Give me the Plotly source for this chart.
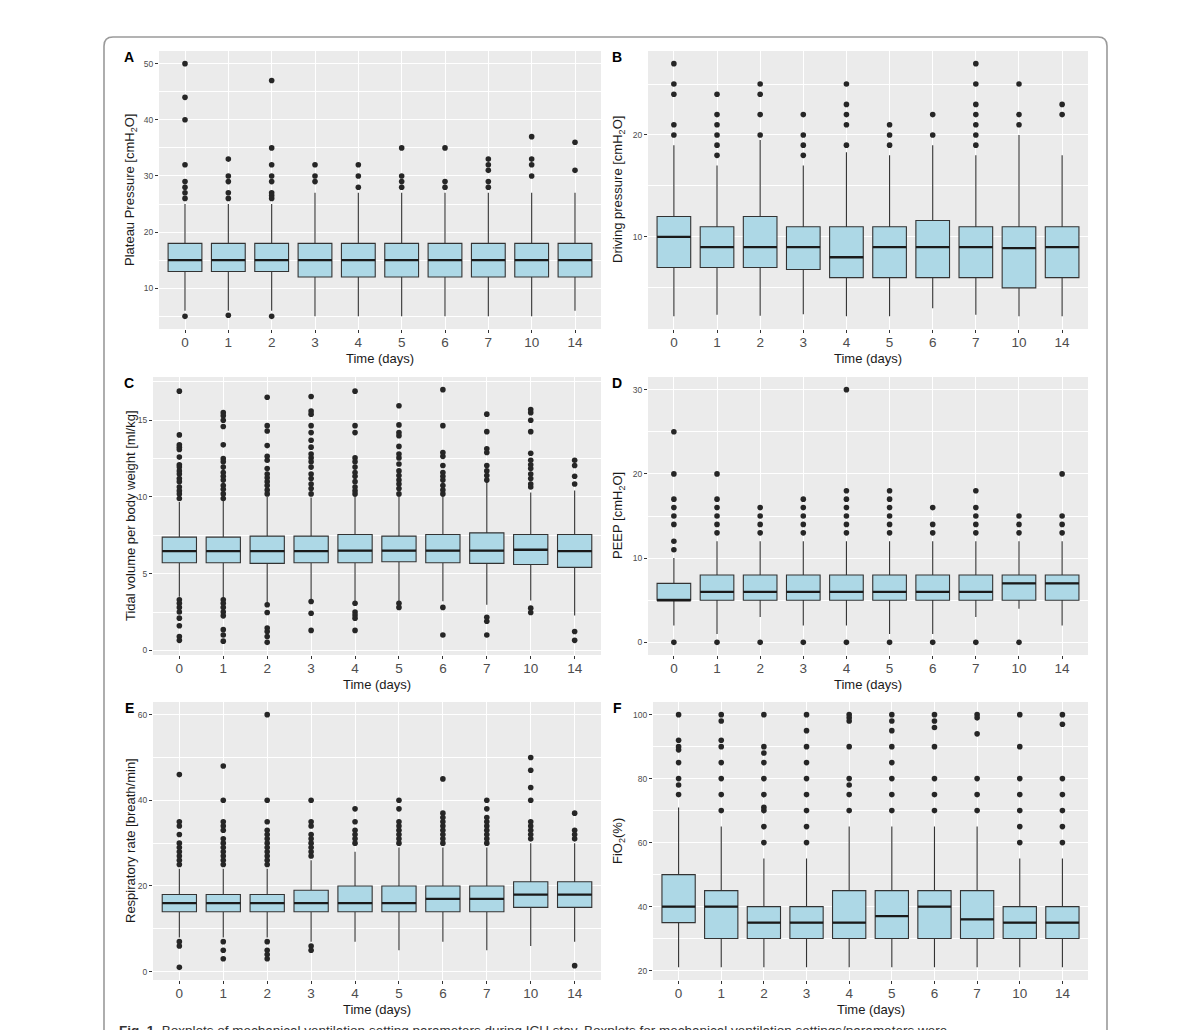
import plotly.graph_objects as go

W, H = 1179, 1030

days = ["0", "1", "2", "3", "4", "5", "6", "7", "10", "14"]

# A - plateau pressure
A_q1 = [13, 13, 13, 12, 12, 12, 12, 12, 12, 12]
A_med = [15, 15, 15, 15, 15, 15, 15, 15, 15, 15]
A_q3 = [18, 18, 18, 18, 18, 18, 18, 18, 18, 18]
A_lo = [6, 6, 6, 5, 5, 5, 5, 5, 5, 6]
A_hi = [25, 25, 25, 27, 27, 27, 27, 27, 27, 27]
A_out = [[50, 44, 40, 32, 29, 28, 27, 26, 5], [33, 30, 29, 27, 26, 5.2],
         [47, 35, 32, 30, 29, 27, 26.5, 26, 5], [32, 30, 29], [32, 30, 28],
         [35, 30, 29, 28], [35, 29, 28], [33, 32, 31, 29, 28], [37, 33, 32, 30], [36, 31]]

# B - driving pressure
B_q1 = [7, 7, 7, 6.8, 6, 6, 6, 6, 5, 6]
B_med = [10, 9, 9, 9, 8, 9, 9, 9, 8.9, 9]
B_q3 = [12, 11, 12, 11, 11, 11, 11.6, 11, 11, 11]
B_lo = [2.2, 2.35, 2.25, 2.4, 2.2, 2.2, 3.0, 2.35, 2.2, 2.2]
B_hi = [19, 17, 19.5, 17, 18.3, 18, 19, 18, 20, 18]
B_out = [[27, 25, 24, 21, 20], [24, 22, 21, 20, 19, 18], [25, 24, 22, 20], [22, 20, 19, 18],
         [25, 23, 22, 21, 19], [21, 20, 19], [22, 20], [27, 25, 23, 22, 21, 20, 19],
         [25, 22, 21], [23, 22]]

# C - tidal volume
C_q1 = [5.71, 5.71, 5.67, 5.71, 5.71, 5.78, 5.71, 5.67, 5.6, 5.41]
C_med = [6.47, 6.47, 6.47, 6.47, 6.5, 6.5, 6.5, 6.5, 6.56, 6.47]
C_q3 = [7.38, 7.38, 7.45, 7.45, 7.55, 7.45, 7.55, 7.66, 7.55, 7.55]
C_lo = [3.5, 3.4, 3.07, 3.3, 3.2, 3.2, 3.2, 2.97, 3.25, 2.27]
C_hi = [9.67, 9.78, 10.0, 9.96, 10.1, 10.05, 10.1, 10.97, 10.3, 10.43]
C_out = [
    [16.9, 14.05, 13.4, 13.25, 13.1, 12.6, 12.1, 11.95, 11.7, 11.5, 11.2, 11.0, 10.65, 10.4, 10.2, 9.9,
     3.3, 3.07, 2.8, 2.5, 2.1, 1.6, 0.9, 0.65],
    [15.5, 15.3, 15.0, 14.6, 13.4, 12.5, 12.3, 11.95, 11.6, 11.35, 11.1, 10.75, 10.5, 10.2, 9.9,
     3.3, 3.07, 2.8, 2.5, 2.25, 1.35, 1.0, 0.6],
    [16.5, 14.65, 14.3, 13.35, 12.65, 12.4, 11.85, 11.5, 11.25, 11.0, 10.75, 10.45, 10.2,
     2.97, 2.47, 1.45, 1.23, 0.9, 0.52],
    [16.55, 15.6, 15.4, 14.65, 14.2, 13.7, 13.25, 12.8, 12.55, 12.3, 11.95, 11.5, 11.2, 10.85, 10.55, 10.2,
     3.18, 2.42, 1.3],
    [16.9, 14.65, 14.2, 12.55, 12.3, 11.95, 11.6, 11.35, 11.0, 10.65, 10.4, 10.2,
     3.07, 2.5, 2.3, 2.1, 1.3],
    [15.95, 14.7, 14.2, 14.0, 13.3, 12.8, 12.55, 12.15, 11.7, 11.4, 11.1, 10.85, 10.55, 10.2,
     3.07, 2.8],
    [17.0, 14.65, 12.9, 12.65, 12.05, 11.6, 11.35, 11.1, 10.75, 10.45, 10.2, 2.8, 1.0],
    [15.4, 14.26, 13.15, 12.9, 12.05, 11.7, 11.4, 11.1, 2.16, 1.9, 1.0],
    [15.7, 15.5, 15.0, 14.26, 12.85, 12.4, 12.1, 11.85, 11.5, 11.2, 10.85, 10.65, 2.75, 2.47],
    [12.4, 12.05, 11.35, 10.85, 1.23, 0.65],
]

# D - PEEP
D_q1 = [5, 5, 5, 5, 5, 5, 5, 5, 5, 5]
D_med = [5, 6, 6, 6, 6, 6, 6, 6, 7, 7]
D_q3 = [7, 8, 8, 8, 8, 8, 8, 8, 8, 8]
D_lo = [2, 1, 3, 2, 2, 1, 1, 3, 4, 2]
D_hi = [10, 12, 12, 12, 12, 12, 12, 12, 12, 12]
D_out = [[25, 20, 17, 16, 15, 14, 12, 11, 0], [20, 17, 16, 15, 14, 13, 0], [16, 15, 14, 13, 0],
         [17, 16, 15, 14, 13, 0], [30, 18, 17, 16, 15, 14, 13, 0], [18, 17, 16, 15, 14, 13, 0],
         [16, 14, 13, 0], [18, 16, 15, 14, 13, 0], [15, 14, 13, 0], [20, 15, 14, 13]]

# E - respiratory rate
E_q1 = [14, 14, 14, 14, 14, 14, 14, 14, 15, 15]
E_med = [16, 16, 16, 16, 16, 16, 17, 17, 18, 18]
E_q3 = [18, 18, 18, 19, 20, 20, 20, 20, 21, 21]
E_lo = [8, 8, 8, 7, 7, 5, 7, 5, 6, 7]
E_hi = [24, 24, 24, 26, 28, 29, 29, 29, 30, 30]
E_out = [[46, 35, 34, 32, 30, 29, 28, 27, 26, 25, 7, 6, 1],
         [48, 40, 35, 34, 33, 31, 30, 29, 28, 27, 26, 25, 7, 5, 3],
         [60, 40, 35, 33, 32, 31, 30, 29, 28, 27, 26, 25, 7, 5, 4, 3],
         [40, 35, 34, 32, 31, 30, 29, 28, 27, 6, 5],
         [38, 35, 33, 32, 31, 30],
         [40, 38, 35, 34, 33, 32, 31, 30],
         [45, 37, 36, 35, 34, 33, 32, 31, 30],
         [40, 38, 36, 35, 34, 33, 32, 31, 30],
         [50, 47, 43, 40, 35, 34, 33, 32, 31],
         [37, 33, 32, 31, 1.4]]

# F - FiO2
F_q1 = [35, 30, 30, 30, 30, 30, 30, 30, 30, 30]
F_med = [40, 40, 35, 35, 35, 37, 40, 36, 35, 35]
F_q3 = [50, 45, 40, 40, 45, 45, 45, 45, 40, 40]
F_lo = [21, 21, 21, 21, 21, 21, 21, 21, 21, 21]
F_hi = [71, 65, 55, 55, 65, 65, 65, 65, 55, 55]
F_out = [[100, 92, 90, 89, 85, 80, 78, 75], [100, 98, 92, 90, 85, 80, 75, 70],
         [100, 90, 88, 85, 80, 75, 71, 70, 65, 60], [100, 95, 90, 85, 80, 75, 70, 65, 60],
         [100, 99, 98, 90, 80, 78, 75, 70], [100, 98, 95, 90, 85, 80, 75, 70],
         [100, 98, 96, 90, 80, 75, 70], [100, 99, 94, 80, 75, 70],
         [100, 90, 80, 75, 70, 65, 60], [100, 97, 80, 75, 70, 65, 60]]

panels = [
    # letter, title, stats, outliers, major dtick, tick0, plot box px (x0, x1, y0, y1)
    ("A", "Plateau Pressure [cmH<sub>2</sub>O]", (A_q1, A_med, A_q3, A_lo, A_hi), A_out, 10, 10, (159, 601, 51, 329)),
    ("B", "Driving pressure [cmH<sub>2</sub>O]", (B_q1, B_med, B_q3, B_lo, B_hi), B_out, 10, 10, (648, 1088, 51, 329)),
    ("C", "Tidal volume per body weight [ml/kg]", (C_q1, C_med, C_q3, C_lo, C_hi), C_out, 5, 0, (153, 601, 377, 655)),
    ("D", "PEEP [cmH<sub>2</sub>O]", (D_q1, D_med, D_q3, D_lo, D_hi), D_out, 10, 0, (648, 1088, 377, 655)),
    ("E", "Respiratory rate [breath/min]", (E_q1, E_med, E_q3, E_lo, E_hi), E_out, 20, 0, (153, 601, 702, 980)),
    ("F", "FiO<sub>2</sub>(%)", (F_q1, F_med, F_q3, F_lo, F_hi), F_out, 20, 20, (653, 1088, 702, 980)),
]

FONT = "Liberation Sans, Arial, sans-serif"
BOXW = 0.78
pos = list(range(len(days)))

fig = go.Figure()
annotations = []

for i, (letter, ytitle, stats, outs, dt, t0, (px0, px1, py0, py1)) in enumerate(panels):
    n = "" if i == 0 else str(i + 1)
    xa, ya = "x" + n, "y" + n
    q1, med, q3, lo, hi = stats

    fig.add_trace(go.Box(
        x=pos, q1=q1, median=med, q3=q3, lowerfence=lo, upperfence=hi,
        width=BOXW, whiskerwidth=0, fillcolor="#ADD8E6", line=dict(color="#333333", width=1.1),
        boxpoints=False, xaxis=xa, yaxis=ya, showlegend=False, hoverinfo="skip"))

    # thicker median bar like ggplot
    mx, my = [], []
    for p, m in zip(pos, med):
        mx += [p - BOXW / 2, p + BOXW / 2, None]
        my += [m, m, None]
    fig.add_trace(go.Scatter(x=mx, y=my, mode="lines", line=dict(color="#1A1A1A", width=2.3),
                             xaxis=xa, yaxis=ya, showlegend=False, hoverinfo="skip"))

    ox, oy = [], []
    for p, vals in zip(pos, outs):
        ox += [p] * len(vals)
        oy += vals
    fig.add_trace(go.Scatter(x=ox, y=oy, mode="markers",
                             marker=dict(color="#262626", size=5.6),
                             xaxis=xa, yaxis=ya, showlegend=False, hoverinfo="skip"))

    allv = lo + hi + oy
    vmin, vmax = min(allv), max(allv)
    pad = (vmax - vmin) * 0.05

    fig.layout["xaxis" + n] = dict(
        domain=[px0 / W, px1 / W], anchor=ya, range=[-0.6, len(days) - 0.4],
        tickmode="array", tickvals=pos, ticktext=days,
        showgrid=True, gridcolor="white", gridwidth=1.1, zeroline=False, showline=False,
        ticks="outside", ticklen=3, tickcolor="#333333", tickwidth=1, ticklabelstandoff=-2,
        tickfont=dict(family=FONT, size=13.5, color="#4D4D4D"))
    fig.layout["yaxis" + n] = dict(
        domain=[1 - py1 / H, 1 - py0 / H], anchor=xa, range=[vmin - pad, vmax + pad],
        tick0=t0, dtick=dt, showgrid=True, gridcolor="white", gridwidth=1.1,
        minor=dict(tick0=t0, dtick=dt / 2, showgrid=True, gridcolor="white", gridwidth=0.5),
        zeroline=False, showline=False,
        ticks="outside", ticklen=3, tickcolor="#333333", tickwidth=1,
        tickfont=dict(family=FONT, size=8.5, color="#4D4D4D"))

    # y title, x title, panel letter
    ytx = 130 if px0 < 400 else 618
    annotations.append(dict(text=ytitle, textangle=-90, x=ytx / W,
                            y=1 - (py0 + py1) / 2 / H, xref="paper", yref="paper",
                            xanchor="center", yanchor="middle",
                            showarrow=False, font=dict(family=FONT, size=13, color="#1A1A1A")))
    annotations.append(dict(text="Time (days)", x=(px0 + px1) / 2 / W, y=1 - (py1 + 29) / H,
                            xref="paper", yref="paper", xanchor="center", yanchor="middle",
                            showarrow=False, font=dict(family=FONT, size=13, color="#1A1A1A")))
    lx = 129 if px0 < 400 else 617
    annotations.append(dict(text="<b>%s</b>" % letter, x=lx / W, y=1 - (py0 + 6) / H,
                            xref="paper", yref="paper", xanchor="center", yanchor="middle",
                            showarrow=False, font=dict(family=FONT, size=14, color="black")))

# caption, cut off at the bottom like the source page
annotations.append(dict(
    text="<b>Fig. 1</b>  Boxplots of mechanical ventilation setting parameters during ICU stay. "
         "Boxplots for mechanical ventilation settings/parameters were",
    x=117 / W, y=1 - 1021 / H, xref="paper", yref="paper", xanchor="left", yanchor="top",
    showarrow=False, font=dict(family=FONT, size=13.5, color="#333333")))

# rounded frame around the figure
fx0, fx1, fy0, fyb, r = 104 / W, 1107 / W, 1 - 37 / H, 1 - 1060 / H, 9
rx, ry = r / W, r / H
frame = (f"M {fx0},{fyb} L {fx0},{fy0 - ry} Q {fx0},{fy0} {fx0 + rx},{fy0} "
         f"L {fx1 - rx},{fy0} Q {fx1},{fy0} {fx1},{fy0 - ry} L {fx1},{fyb}")

fig.update_layout(
    width=W, height=H, margin=dict(l=0, r=0, t=0, b=0),
    paper_bgcolor="white", plot_bgcolor="#EBEBEB",
    font=dict(family=FONT),
    annotations=annotations,
    shapes=[dict(type="path", path=frame, xref="paper", yref="paper",
                 line=dict(color="#9A9A9A", width=1.6), layer="above")],
)

# page has a default 8px body margin; drop it so the figure sits at the window origin
fig.write_html("out.html", config={"displayModeBar": False},
               post_script="document.body.style.margin='0';document.body.style.overflow='hidden';")
